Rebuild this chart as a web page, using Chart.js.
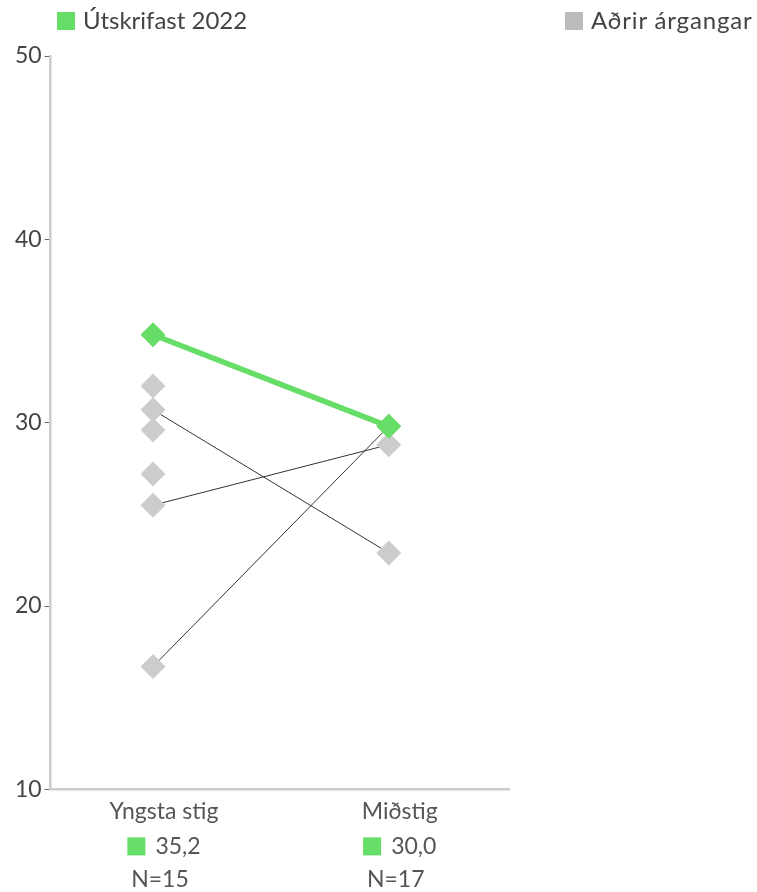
<!DOCTYPE html>
<html>
<head>
<meta charset="utf-8">
<script src="https://cdn.jsdelivr.net/npm/chart.js@4"></script>
<style>
  html, body { margin: 0; padding: 0; background: #fff; }
  #wrap { position: relative; width: 757px; height: 892px; font-family: Lato, "Open Sans", sans-serif; }
  #wrap canvas { position: absolute; left: 0; top: 0; }
  .leg { position: absolute; top: 5px; font-size: 24px; color: #444; line-height: 30px; white-space: nowrap; }
  .sw { display: inline-block; width: 18px; height: 18px; vertical-align: -1px; margin-right: 8px; }
</style>
</head>
<body>
<div id="wrap">
  <canvas id="c" width="757" height="892"></canvas>
  <div class="leg" style="left:57px;"><span class="sw" style="background:#66dd66"></span>Útskrifast 2022</div>
  <div class="leg" style="left:565px;"><span class="sw" style="background:#bbbbbb"></span><span style="letter-spacing:0.85px">Aðrir árgangar</span></div>
</div>
<script>
// ---- data ----
const categories = ["Yngsta stig", "Miðstig"];
const mainSeries = [34.8, 29.8];          // Útskrifast 2022 (plotted)
const mainLabels = ["35,2", "30,0"];      // values shown under axis
const nCounts = [15, 17];
// Aðrir árgangar: each cohort = [Yngsta stig, Miðstig]
const cohortA = [32.0, null];
const cohortB = [30.7, 22.9];
const cohortC = [29.6, null];
const cohortD = [27.2, null];
const cohortE = [25.5, 28.8];
const cohortF = [16.7, 29.8];
const yTicks = [10, 20, 30, 40, 50];

const cohorts = [cohortA, cohortB, cohortC, cohortD, cohortE, cohortF];
const GREEN = '#66dd66', GREY = '#cccccc', TXT = '#555555';
const FONT = 'Lato, "Open Sans", sans-serif';

const toXY = arr => arr.map((v, i) => v == null ? null : {x: i, y: v}).filter(p => p);

const datasets = [];
datasets.push({
  label: 'Útskrifast 2022', data: toXY(mainSeries), showLine: true,
  borderColor: GREEN, borderWidth: 5.5, pointStyle: 'rectRot', pointRadius: 12.5,
  pointBackgroundColor: GREEN, pointBorderWidth: 0, order: 0
});
const greyPts = [];
cohorts.forEach(c => toXY(c).forEach(p => greyPts.push(p)));
datasets.push({
  label: 'Aðrir árgangar', data: greyPts, showLine: false,
  pointStyle: 'rectRot', pointRadius: 12.5, pointBackgroundColor: GREY,
  pointBorderWidth: 0, order: 1
});
cohorts.forEach(c => {
  if (c.every(v => v != null)) {
    datasets.push({
      label: 'line', data: toXY(c), showLine: true, borderColor: '#333333',
      borderWidth: 1, pointRadius: 0, order: 2
    });
  }
});

const bottomText = {
  id: 'bottomText',
  afterDraw(chart) {
    const ctx = chart.ctx, xs = chart.scales.x, area = chart.chartArea;
    ctx.save();
    ctx.font = '23px ' + FONT;
    ctx.fillStyle = TXT;
    ctx.textBaseline = 'middle';
    categories.forEach((cat, i) => {
      const cx = xs.getPixelForValue(i) + 11;
      const t = mainLabels[i];
      const tw = ctx.measureText(t).width;
      const sq = 18, gap = 10;
      const total = sq + gap + tw;
      const x0 = cx - total / 2;
      const y1 = area.bottom + 57;
      ctx.fillStyle = GREEN;
      ctx.fillRect(x0, y1 - sq / 2, sq, sq);
      ctx.fillStyle = TXT;
      ctx.textAlign = 'left';
      ctx.fillText(t, x0 + sq + gap, y1);
      ctx.textAlign = 'center';
      ctx.fillText('N=' + nCounts[i], cx - 4, area.bottom + 90);
    });
    ctx.restore();
  }
};

new Chart(document.getElementById('c'), {
  type: 'scatter',
  data: { datasets },
  plugins: [bottomText],
  options: {
    responsive: false,
    animation: false,
    layout: { padding: { top: 56, left: 12, right: 248, bottom: 59 } },
    plugins: { legend: { display: false }, tooltip: { enabled: false } },
    scales: {
      x: {
        type: 'linear', min: -0.434, max: 1.51,
        afterBuildTicks: s => { s.ticks = categories.map((_, i) => ({ value: i })); },
        ticks: { callback: v => categories[v], font: { family: FONT, size: 23 }, color: TXT, padding: 8, labelOffset: 11, maxRotation: 0, autoSkip: false },
        grid: { display: false, drawTicks: false },
        border: { display: true, color: '#cccccc', width: 2.5 }
      },
      y: {
        min: 10, max: 50,
        afterBuildTicks: s => { s.ticks = yTicks.map(v => ({ value: v })); },
        ticks: { font: { family: FONT, size: 23 }, color: '#444444', padding: 3 },
        grid: { drawOnChartArea: false, drawTicks: true, tickLength: 6, tickColor: '#666666', tickWidth: 1 },
        border: { display: true, color: '#cccccc', width: 2.5 }
      }
    }
  }
});
</script>
</body>
</html>
